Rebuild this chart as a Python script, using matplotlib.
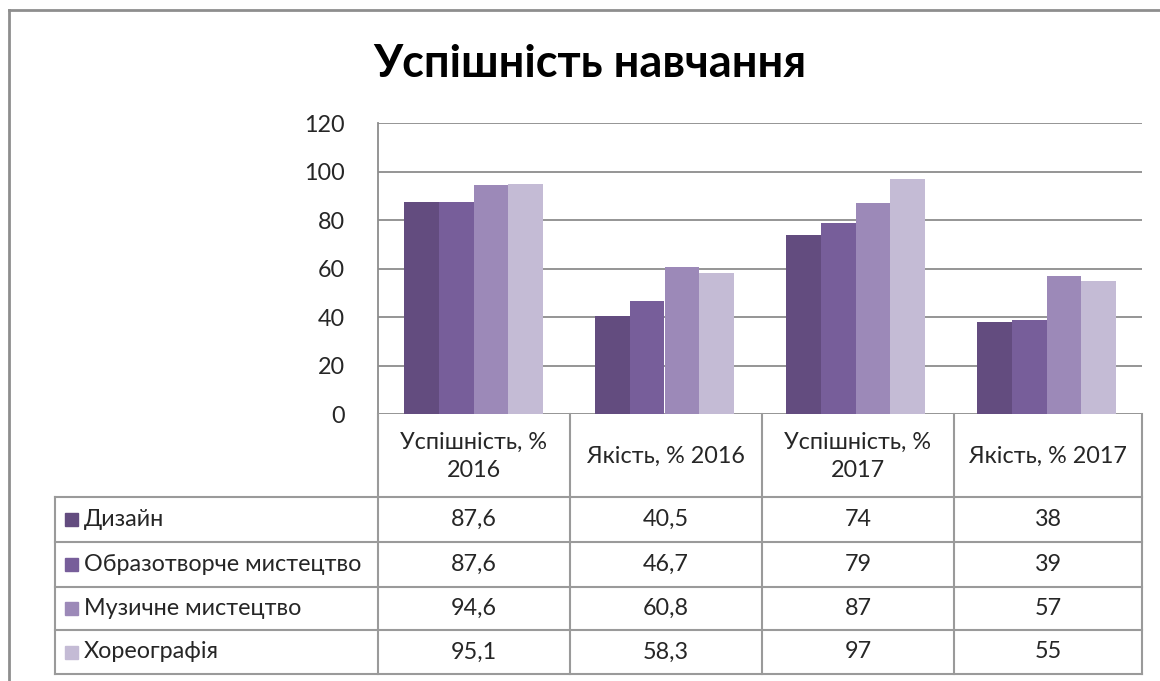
import matplotlib
matplotlib.use("Agg")
import matplotlib.pyplot as plt
import numpy as np

categories = ["Успішність, %\n2016", "Якість, % 2016", "Успішність, %\n2017", "Якість, % 2017"]
series_names = ["Дизайн", "Образотворче мистецтво", "Музичне мистецтво", "Хореографія"]
dizain = [87.6, 40.5, 74, 38]
obrazotvorche = [87.6, 46.7, 79, 39]
muzychne = [94.6, 60.8, 87, 57]
khoreohrafiia = [95.1, 58.3, 97, 55]
value_labels = [["87,6", "40,5", "74", "38"],
                ["87,6", "46,7", "79", "39"],
                ["94,6", "60,8", "87", "57"],
                ["95,1", "58,3", "97", "55"]]
yticks = [0, 20, 40, 60, 80, 100, 120]
title = "Успішність навчання"

colors = ["#634C7F", "#775E9A", "#9C89B8", "#C4BBD5"]
series = [dizain, obrazotvorche, muzychne, khoreohrafiia]

plt.rcParams['font.family'] = ['Lato', 'DejaVu Sans']
W, H = 1160, 681
fig = plt.figure(figsize=(W / 100, H / 100), dpi=100)
FS = 16.8

# plot area in pixel coordinates
px_l, px_r, px_t, px_b = 378, 1142, 123.3, 414.3
ax = fig.add_axes([px_l / W, 1 - px_b / H, (px_r - px_l) / W, (px_b - px_t) / H])
ax.set_xlim(-0.5, 3.5)
ax.set_ylim(0, 120)
n = len(categories)
x = np.arange(n)
bw = 0.1825
for i, (vals, c) in enumerate(zip(series, colors)):
    ax.bar(x + (i - 1.5) * bw, vals, width=bw, color=c, zorder=3)
ax.set_yticks(yticks)
ax.set_yticklabels([str(t) for t in yticks], fontsize=FS, color="#262626")
ax.tick_params(axis='y', length=0, pad=24)
ax.set_xticks([])
ax.grid(axis='y', color="#8C8C8C", linewidth=1.3, zorder=0)
for s in ["top", "right", "bottom"]:
    ax.spines[s].set_visible(False)
ax.spines["left"].set_color("#8C8C8C")
ax.spines["left"].set_linewidth(1.3)

# overlay axes for table and frame
ov = fig.add_axes([0, 0, 1, 1], zorder=5)
ov.set_xlim(0, W)
ov.set_ylim(H, 0)
ov.axis("off")
ov.patch.set_alpha(0)

lc = "#9A9A9A"
lw = 1.5
# outer frame
ov.plot([9, 9], [10, H], color="#8E8E8E", lw=2)
ov.plot([9, W], [10, 10], color="#8E8E8E", lw=2)

col_x = [378, 570, 762, 954, 1142]
row_y = [414.3, 497, 542, 587, 630, 674]
left_x = 55
# vertical lines
for cx in col_x:
    ov.plot([cx, cx], [row_y[0], row_y[-1]], color=lc, lw=lw)
ov.plot([left_x, left_x], [row_y[1], row_y[-1]], color=lc, lw=lw)
# horizontal lines
for ry in row_y[1:]:
    ov.plot([left_x, col_x[-1]], [ry, ry], color=lc, lw=lw)

# header text
for j, cat in enumerate(categories):
    cx = (col_x[j] + col_x[j + 1]) / 2
    cy = (row_y[0] + row_y[1]) / 2 + 1
    ov.text(cx, cy, cat, ha="center", va="center", fontsize=FS, color="#262626",
            linespacing=1.45)

# rows
for i, name in enumerate(series_names):
    cy = (row_y[i + 1] + row_y[i + 2]) / 2
    ov.add_patch(plt.Rectangle((65, cy - 6.5), 13, 13, color=colors[i]))
    ov.text(84, cy, name, ha="left", va="center", fontsize=FS, color="#262626")
    for j in range(n):
        cx = (col_x[j] + col_x[j + 1]) / 2
        ov.text(cx, cy, value_labels[i][j], ha="center", va="center", fontsize=FS,
                color="#262626")

ov.text(590, 64, title, ha="center", va="center", fontsize=32.5, fontweight="bold",
        color="#000000")

fig.savefig("out.png", dpi=100)
